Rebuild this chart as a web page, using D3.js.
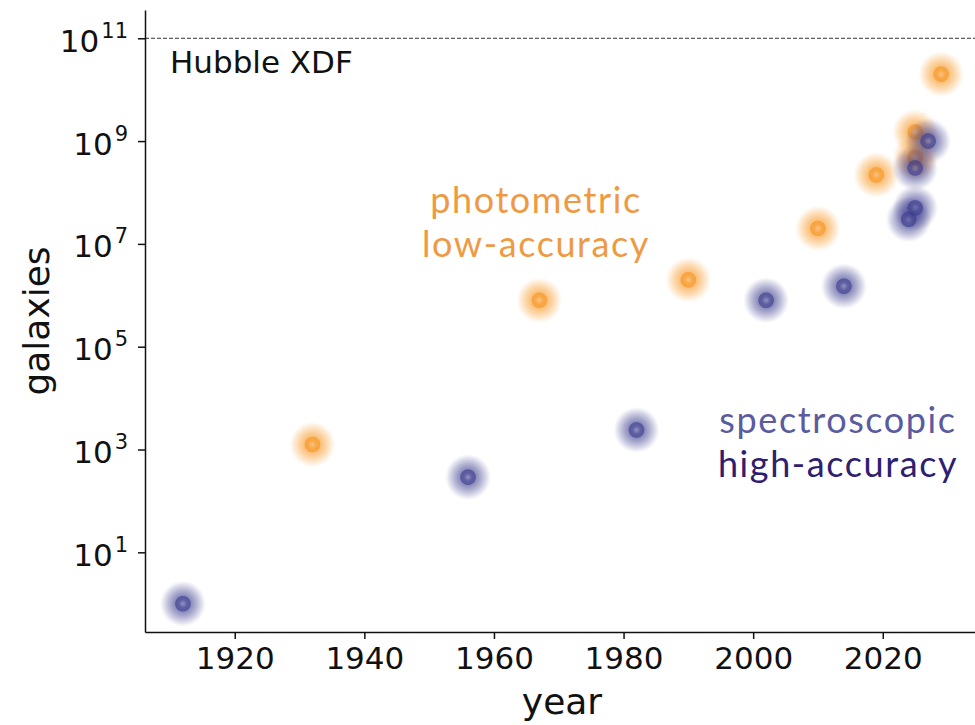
<!DOCTYPE html>
<html>
<head>
<meta charset="utf-8">
<script src="https://cdn.jsdelivr.net/npm/d3@7"></script>
<style>
  body { margin: 0; background: #fff; }
  svg { display: block; }
</style>
</head>
<body>
<div id="chart"></div>
<script>
// galaxy surveys over time
const specYears = [1912, 1956, 1982, 2002, 2014, 2024, 2025, 2025, 2027]
const specCounts = [1, 290, 2400, 8e5, 1.5e6, 3e7, 5e7, 3e8, 1e9]
const photoYears = [1932, 1967, 1990, 2010, 2019, 2025, 2025, 2029]
const photoCounts = [1250, 8e5, 2e6, 2e7, 2.2e8, 4.8e8, 1.5e9, 2e10]
const yTicks = [1e1, 1e3, 1e5, 1e7, 1e9, 1e11]
const xTicks = [1920, 1940, 1960, 1980, 2000, 2020]
const hubbleXDF = 1e11

const width = 975
const height = 725
const marginTop = 10
const marginRight = -4
const marginBottom = 93
const marginLeft = 145

const navy = '#3b3b8e'
const orange = '#f7941e'

const svg = d3.select('#chart')
  .append('svg')
  .attr('width', width)
  .attr('height', height)

const defs = svg.append('defs')
function glow (id, color) {
  const g = defs.append('radialGradient').attr('id', id)
  const stops = [[0, 0.55], [0.18, 0.82], [0.32, 0.85], [0.36, 0.58], [0.55, 0.42], [0.78, 0.2], [0.92, 0.06], [1, 0]]
  stops.forEach(s => g.append('stop')
    .attr('offset', s[0])
    .attr('stop-color', color)
    .attr('stop-opacity', s[1]))
}
glow('glow-spec', navy)
glow('glow-photo', orange)

const xScale = d3.scaleLinear()
  .domain([1906.15, 2034.85])
  .range([marginLeft, width - marginRight])

const yScale = d3.scaleLog()
  .domain([Math.pow(10, -0.55), Math.pow(10, 11.55)])
  .range([height - marginBottom, marginTop])

// Hubble XDF reference line
svg.append('line')
  .attr('x1', marginLeft)
  .attr('x2', width)
  .attr('y1', yScale(hubbleXDF))
  .attr('y2', yScale(hubbleXDF))
  .attr('stroke', '#333')
  .attr('stroke-width', 1)
  .attr('stroke-dasharray', '4,2')

svg.append('text')
  .attr('x', 170)
  .attr('y', 73)
  .attr('font-family', 'DejaVu Sans')
  .attr('font-size', 31)
  .attr('fill', '#111')
  .text('Hubble XDF')

// points
const photo = photoYears.map((d, i) => ({year: d, n: photoCounts[i]}))
const spec = specYears.map((d, i) => ({year: d, n: specCounts[i]}))

svg.append('g')
  .selectAll('circle')
  .data(photo)
  .enter()
  .append('circle')
  .attr('cx', d => xScale(d.year))
  .attr('cy', d => yScale(d.n))
  .attr('r', 23)
  .attr('fill', 'url(#glow-photo)')

svg.append('g')
  .selectAll('circle')
  .data(spec)
  .enter()
  .append('circle')
  .attr('cx', d => xScale(d.year))
  .attr('cy', d => yScale(d.n))
  .attr('r', 23)
  .attr('fill', 'url(#glow-spec)')

// axes
const xAxis = d3.axisBottom(xScale)
  .tickValues(xTicks)
  .tickFormat(d3.format('d'))
  .tickSize(7)
  .tickSizeOuter(0)
  .tickPadding(8)

const gx = svg.append('g')
  .attr('transform', 'translate(0,' + (height - marginBottom) + ')')
  .call(xAxis)
gx.selectAll('text')
  .attr('font-family', 'DejaVu Sans')
  .attr('font-size', 31)
  .attr('fill', '#111')

const yAxis = d3.axisLeft(yScale)
  .tickValues(yTicks)
  .tickFormat('')
  .tickSize(7)
  .tickSizeOuter(0)
  .tickPadding(10)

const gy = svg.append('g')
  .attr('transform', 'translate(' + marginLeft + ',0)')
  .call(yAxis)
gy.selectAll('.tick text').each(function (d) {
  const t = d3.select(this)
    .attr('dy', null)
    .attr('y', 13)
    .attr('font-family', 'DejaVu Sans')
    .attr('font-size', 31)
    .attr('fill', '#111')
  t.append('tspan').text('10')
  t.append('tspan')
    .attr('font-size', 21)
    .attr('dx', 2)
    .attr('dy', -14)
    .text(Math.round(Math.log10(d)))
})

svg.selectAll('.domain, .tick line')
  .attr('stroke', '#111')
  .attr('stroke-width', 1.5)

// axis labels
svg.append('text')
  .attr('x', (marginLeft + width - marginRight) / 2)
  .attr('y', 714)
  .attr('text-anchor', 'middle')
  .attr('font-family', 'DejaVu Sans')
  .attr('font-size', 36)
  .attr('fill', '#111')
  .text('year')

svg.append('text')
  .attr('transform', 'translate(49,' + ((marginTop + height - marginBottom) / 2) + ') rotate(-90)')
  .attr('text-anchor', 'middle')
  .attr('font-family', 'DejaVu Sans')
  .attr('font-size', 36)
  .attr('fill', '#111')
  .text('galaxies')

// group labels
const labels = [
  {text: 'photometric', x: 536, y: 213, color: '#ee9a43'},
  {text: 'low-accuracy', x: 536, y: 257, color: '#ee9a43'},
  {text: 'spectroscopic', x: 838, y: 433, color: '#5b5ba0'},
  {text: 'high-accuracy', x: 838, y: 477, color: '#2e2070'}
]
svg.append('g')
  .selectAll('text')
  .data(labels)
  .enter()
  .append('text')
  .attr('x', d => d.x)
  .attr('y', d => d.y)
  .attr('text-anchor', 'middle')
  .attr('font-family', 'Lato')
  .attr('font-size', 36)
  .attr('letter-spacing', 1.6)
  .attr('fill', d => d.color)
  .text(d => d.text)
</script>
</body>
</html>
